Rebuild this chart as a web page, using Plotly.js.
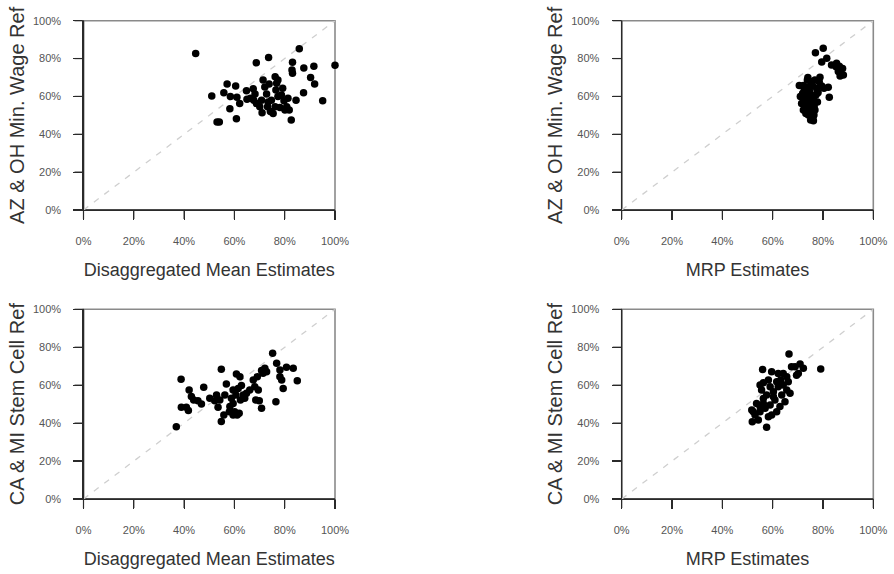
<!DOCTYPE html>
<html>
<head>
<meta charset="utf-8">
<script src="https://cdn.plot.ly/plotly-3.0.1.min.js"></script>
<style>html,body{margin:0;padding:0;background:#fff;}#chart{width:894px;height:574px;}</style>
</head>
<body>
<div id="chart"></div>
<script>
// Panel 1: Disaggregated Mean Estimates vs AZ & OH Min. Wage Ref
const disaggX1 = [44.6,100,85.8,73.6,68.7,83.1,82.9,83.1,87.6,91.6,90.3,91.9,95.1,87.5,82.6,51,53.1,54,57.1,60.5,55.8,58.4,58.2,60.8,61,62.1,64.8,66.4,67.5,67.7,68.2,71.4,72.1,70.8,71,73.2,72.8,74.7,74.3,76.2,76.8,76.5,77.3,76.2,78.1,79.2,79.7,80.1,81.3,81.8,84.5,75.4,70.1,68.8,77.3,73.8,65,73.4,78.7,80.8];
const wageRefY1 = [82.7,76.4,85.2,80.5,77.8,78,73.9,72.2,75,76,70,66.5,57.7,62,47.5,60.2,46.5,46.5,66.5,65.5,62,59.9,53.5,48.2,59.5,56.3,63,59,64,58,61.3,68.7,65,58,51.4,54.6,61.3,58,52,70.4,66.9,63.4,59.9,54.6,54.2,64.3,57.7,52.8,59,52.8,58,51,54.6,56.3,68.7,66.5,58.5,57,60.7,54.6];

// Panel 2: MRP Estimates vs AZ & OH Min. Wage Ref
const mrpX2 = [77,80.1,79.5,81.5,83.4,85.2,86.1,86.8,87.8,88.1,85.4,82.5,82.1,78.8,70.6,76.2,75.1,74.2,72.2,71.5,71.9,72.8,73.8,75.5,76.8,74.8,76.2,77.5,79.5,78.5,73.5,75.5,76.8,74.8,73.5,72.5,77.2,77.8,74.2,75.9,72.2,80.4,76.4,74.6,73.2,75.1,77.9,73,71,74,75,76,72.5,78,87,86.5,74,76.5];
const wageRefY2 = [83.1,85.4,78.2,80.1,76.6,75.7,73.1,70.8,74.8,71.3,77.5,59.5,64.8,70.1,65.8,47.2,47.5,50.2,52.8,56.3,61.6,64.3,68.7,67.8,68.7,62.5,58.1,64.3,65.5,67.8,59,54.6,52.8,51.9,54.6,58.1,60.7,57,65.1,65.5,65.8,64.3,50.2,57.2,51,60.7,62.5,62,60,56,53,49,63,62,72,76,70,55];

// Panel 3: Disaggregated Mean Estimates vs CA & MI Stem Cell Ref
const disaggX3 = [36.9,38.8,38.9,40.9,41.7,42,42.9,43.8,45.5,46.9,47.8,54.8,54.8,55.8,52.9,54.2,53.5,52.2,56.2,56.8,58.2,59.5,60.1,61.1,61.9,60.8,62.2,61.5,60.6,62.8,63.5,64.8,64.1,62.4,58.8,59.5,66.1,67.5,68.1,68.5,69.9,70.8,69.1,70.8,72.1,71.4,72.8,75.2,76.8,76.5,78.1,78.1,78.8,79.4,80.7,83.4,85,69.5,58,59.5,50.2];
const stemRefY3 = [38.1,63.1,48.3,48.3,46.6,57.5,54,52.2,51.8,50.1,58.9,68.4,40.8,44.3,54.8,52.2,48.3,51.8,54.8,60.6,48.7,50.4,46,44.3,45.2,65.9,64.5,58.3,54.8,59.8,54.8,55.7,53.1,52.2,53.1,57.5,57.5,62.7,59.2,52.2,51.8,47.8,64.5,67.7,68.9,66.3,67.1,76.8,71.5,51.3,68,64.5,62.7,58.3,69.4,68.9,62.4,57.5,46,44.3,53.1];

// Panel 4: MRP Estimates vs CA & MI Stem Cell Ref
const mrpX4 = [66.5,79.1,57.6,51.9,56,59.6,70.9,67.5,72.2,69.5,64.2,63.2,56.3,55.6,56.3,53.6,51.7,53,55,57,59,58.3,60.9,60.3,62.2,64.2,65.6,66.2,64.9,62.9,61.6,59.6,54.3,65.6,68.9,57.6,59,61.6,63.6,55,66.9,56.3,55,58.3,62.2,60.3,52.3,70.2];
const stemRefY4 = [76.4,68.5,37.8,40.7,68.3,67.1,71.1,69.7,68.9,65.3,66.2,62.7,61.3,57.4,53,50.4,46.9,44.3,46,47.8,49.5,43.4,52.2,56.6,59.2,60.1,57.4,61.8,51.3,48.7,46,44.3,41.6,64.5,69.7,54.8,59.2,61.8,54.8,60.1,55.7,50.4,48.7,62.7,66.2,53.9,46,66.2];

const tickVals = [0,20,40,60,80,100];
const tickText = ["0%","20%","40%","60%","80%","100%"];
const xTitles = ["Disaggregated Mean Estimates","MRP Estimates","Disaggregated Mean Estimates","MRP Estimates"];
const yTitles = ["AZ & OH Min. Wage Ref","AZ & OH Min. Wage Ref","CA & MI Stem Cell Ref","CA & MI Stem Cell Ref"];

const W = 894, H = 574;
const colsPx = [[83.5,335],[621.7,873.3]];
const rowsPx = [[20.7,210],[309.3,499]];

const xs = [disaggX1, mrpX2, disaggX3, mrpX4];
const ys = [wageRefY1, wageRefY2, stemRefY3, stemRefY4];

const FONT = "Liberation Sans, Arial, Helvetica, sans-serif";
const AXIS_COLOR = "#2a2a2a";
const traces = [];
const layout = {
  width: W, height: H,
  margin: {l:0, r:0, t:0, b:0},
  paper_bgcolor: "#ffffff", plot_bgcolor: "rgba(0,0,0,0)",
  showlegend: false,
  font: {family: FONT, color: "#333"},
  shapes: []
};

for (let i = 0; i < 4; i++) {
  const n = i + 1;
  const suf = n === 1 ? "" : String(n);
  const col = colsPx[i % 2], row = rowsPx[Math.floor(i / 2)];
  const xd = [col[0] / W, col[1] / W];
  const yd = [1 - row[1] / H, 1 - row[0] / H];
  traces.push({
    type: "scatter", mode: "markers",
    x: xs[i], y: ys[i],
    xaxis: "x" + suf, yaxis: "y" + suf,
    marker: {color: "#000", size: 7.5, line: {width: 0}},
    cliponaxis: false, hoverinfo: "x+y"
  });
  const common = {
    range: [0, 100], tickmode: "array", tickvals: tickVals, ticktext: tickText,
    showgrid: false, zeroline: false,
    showline: true, linecolor: AXIS_COLOR, linewidth: 1.2,
    ticks: "outside", ticklen: 9, tickcolor: AXIS_COLOR, tickwidth: 1.2,
    tickfont: {family: FONT, size: 11, color: "#555"},
    fixedrange: true, automargin: false
  };
  layout["xaxis" + suf] = Object.assign({}, common, {
    domain: xd,
    anchor: "y" + suf,
    ticklabelstandoff: 12,
    title: {text: xTitles[i], font: {family: FONT, size: 18, color: "#333"}, standoff: 17}
  });
  layout["yaxis" + suf] = Object.assign({}, common, {
    domain: yd,
    anchor: "x" + suf,
    ticklabelstandoff: 10,
    title: {text: yTitles[i], font: {family: FONT, size: 20, color: "#333"}, standoff: 3}
  });
  // grey frame (top/right)
  layout.shapes.push({
    type: "rect", xref: "paper", yref: "paper",
    x0: xd[0], x1: xd[1], y0: yd[0], y1: yd[1],
    line: {color: "#8a8a8a", width: 1.6}, layer: "below"
  });
  // identity reference line
  layout.shapes.push({
    type: "line", xref: "x" + suf, yref: "y" + suf,
    x0: 0, y0: 0, x1: 100, y1: 100,
    line: {color: "#cfcfcf", width: 1.3, dash: "6px,7px"}, layer: "below"
  });
  // dark axis lines (left and bottom)
  layout.shapes.push({
    type: "line", xref: "paper", yref: "paper",
    x0: xd[0], x1: xd[1], y0: yd[0], y1: yd[0],
    line: {color: AXIS_COLOR, width: 1.3}, layer: "below"
  });
  layout.shapes.push({
    type: "line", xref: "paper", yref: "paper",
    x0: xd[0], x1: xd[0], y0: yd[0], y1: yd[1],
    line: {color: AXIS_COLOR, width: 1.3}, layer: "below"
  });
  // tick marks placed from the tick values
  tickVals.forEach(function (v) {
    const fx = xd[0] + (v / 100) * (xd[1] - xd[0]);
    const fy = yd[0] + (v / 100) * (yd[1] - yd[0]);
    layout.shapes.push({
      type: "line", xref: "paper", yref: "paper",
      x0: fx, x1: fx, ysizemode: "pixel", yanchor: yd[0], y0: 0, y1: -9,
      line: {color: AXIS_COLOR, width: 1.2}, layer: "below"
    });
    layout.shapes.push({
      type: "line", xref: "paper", yref: "paper",
      y0: fy, y1: fy, xsizemode: "pixel", xanchor: xd[0], x0: 0, x1: -9,
      line: {color: AXIS_COLOR, width: 1.2}, layer: "below"
    });
  });
}

Plotly.newPlot("chart", traces, layout, {displayModeBar: false, staticPlot: true});
</script>
</body>
</html>
